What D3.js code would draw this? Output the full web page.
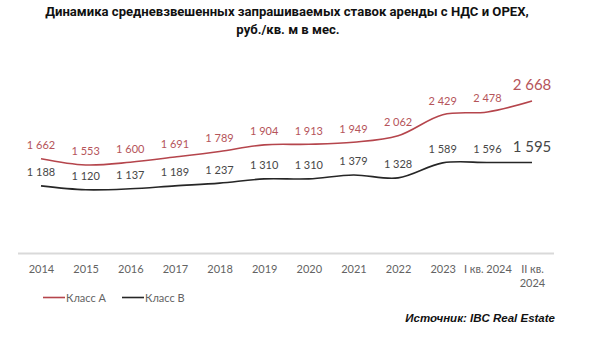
<!DOCTYPE html>
<html><head><meta charset="utf-8">
<script src="https://cdn.jsdelivr.net/npm/d3@7"></script>
<style>body{margin:0;background:#fff}svg{display:block}</style>
</head><body>
<svg id="c" width="600" height="340"></svg>
<script>
const categories = ["2014","2015","2016","2017","2018","2019","2020","2021","2022","2023","I кв. 2024","II кв. 2024"];
const classA = [1662,1553,1600,1691,1789,1904,1913,1949,2062,2429,2478,2668];
const classB = [1188,1120,1137,1189,1237,1310,1310,1379,1328,1589,1596,1595];
const seriesNames = ["Класс А","Класс В"];
const titleLines = ["Динамика средневзвешенных запрашиваемых ставок аренды с НДС и OPEX,","руб./кв. м в мес."];
const sourceText = "Источник: IBC Real Estate";

const svg = d3.select("#c");
const x = d3.scalePoint().domain(categories).range([41,532]);
const y = d3.scaleLinear().domain([0,3000]).range([254,82]);
const colors = ["#b5454c","#262626"];
const labelColors = ["#b5545a","#474747"];
const fmt = v => d3.format(",")(v).replace(/,/g," ");

svg.append("text").attr("x",287).attr("y",16).attr("text-anchor","middle")
  .attr("font-family","Roboto").attr("font-weight","bold").attr("font-size",13.1).attr("fill","#111")
  .text(titleLines[0]);
svg.append("text").attr("x",288).attr("y",34).attr("text-anchor","middle")
  .attr("font-family","Roboto").attr("font-weight","bold").attr("font-size",13.1).attr("fill","#111")
  .text(titleLines[1]);

// axis
const ax = svg.append("g").attr("transform","translate(0,254)")
  .call(d3.axisBottom(x).tickSize(0).tickPadding(0));
ax.select(".domain").remove();
svg.append("line").attr("x1",18).attr("x2",554).attr("y1",253.5).attr("y2",253.5)
  .attr("stroke","#d9d9d9").attr("stroke-width",2);
ax.selectAll(".tick text").each(function(d){
  const t = d3.select(this).text(null).attr("font-family","Lato").attr("font-size",11)
    .attr("fill","#636363").attr("y",19).attr("dy",0);
  if (d === "II кв. 2024") {
    t.append("tspan").attr("x",0).attr("dy",0).text("II кв.");
    t.append("tspan").attr("x",0).attr("dy",14).text("2024");
  } else t.text(d);
});

[classA, classB].forEach((data, si) => {
  const line = d3.line().x((d,i)=>x(categories[i])).y(d=>y(d)).curve(d3.curveCatmullRom.alpha(0.5));
  svg.append("path").datum(data).attr("d",line).attr("fill","none")
    .attr("stroke",colors[si]).attr("stroke-width",1.6);
  svg.append("g").selectAll("text").data(data).join("text")
    .attr("x",(d,i)=>x(categories[i]))
    .attr("y",(d,i)=> i===data.length-1 ? y(d)-11 : y(d)-9.5)
    .attr("text-anchor","middle").attr("font-family","Lato")
    .attr("font-size",(d,i)=> i===data.length-1 ? 15 : 11)
    .attr("fill",labelColors[si]).text(fmt);
});

// legend
const lg = svg.append("g");
[[43,66],[122,145]].forEach((p,i)=>{
  lg.append("line").attr("x1",p[0]).attr("x2",p[0]+22).attr("y1",297.5).attr("y2",297.5)
    .attr("stroke",colors[i]).attr("stroke-width",1.6);
  lg.append("text").attr("x",p[1]).attr("y",301.5).attr("font-family","Lato").attr("font-size",11)
    .attr("fill","#636363").text(seriesNames[i]);
});

svg.append("text").attr("x",555).attr("y",322).attr("text-anchor","end")
  .attr("font-family","Liberation Sans").attr("font-weight","bold").attr("font-style","italic")
  .attr("font-size",11.5).attr("fill","#111").text(sourceText);
</script>
</body></html>
